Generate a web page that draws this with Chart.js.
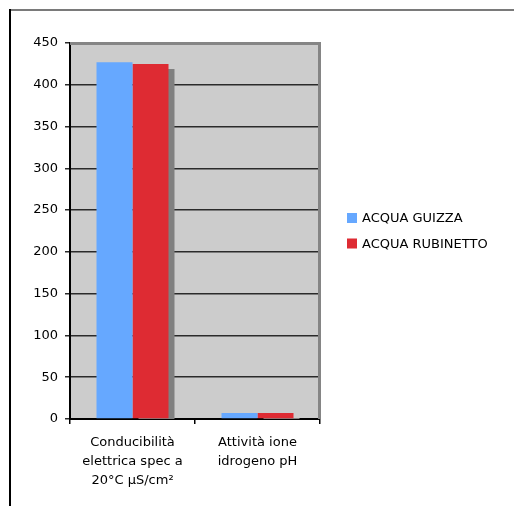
<!DOCTYPE html>
<html>
<head>
<meta charset="utf-8">
<script src="https://cdn.jsdelivr.net/npm/chart.js@4.4.0/dist/chart.umd.min.js"></script>
<style>
  html, body { margin: 0; padding: 0; background: #ffffff; }
  #wrap { width: 514px; height: 506px; position: relative; }
</style>
</head>
<body>
<div id="wrap"><canvas id="c" width="514" height="506"></canvas></div>
<script>
// Categories (multi-line labels) and the two water samples
const categories = [
  ['Conducibilità', 'elettrica spec a', '20°C µS/cm²'],
  ['Attività ione', 'idrogeno pH']
];
const seriesNames = ['ACQUA GUIZZA', 'ACQUA RUBINETTO'];
const guizza = [427, 7.2];
const rubinetto = [425, 7.2];
const yTicks = [0, 50, 100, 150, 200, 250, 300, 350, 400, 450];

const FONT = 'DejaVu Sans';
const BLUE = '#66a8ff';
const RED = '#de2b33';

// Grey plot background, outer frame and plot border
const framePlugin = {
  id: 'frame',
  beforeDraw(chart) {
    const { ctx, chartArea: a } = chart;
    ctx.save();
    ctx.fillStyle = '#ffffff';
    ctx.fillRect(0, 0, chart.width, chart.height);
    // outer frame: top and left edges
    ctx.strokeStyle = '#7a7a7a';
    ctx.lineWidth = 2;
    ctx.beginPath();
    ctx.moveTo(9, 10);
    ctx.lineTo(chart.width, 10);
    ctx.stroke();
    ctx.strokeStyle = '#000000';
    ctx.beginPath();
    ctx.moveTo(10, 9);
    ctx.lineTo(10, chart.height);
    ctx.stroke();
    // plot background
    ctx.fillStyle = '#cccccc';
    ctx.fillRect(a.left, a.top, a.right - a.left, a.bottom - a.top);
    ctx.restore();
  },
  beforeDatasetsDraw(chart) {
    const { ctx, chartArea: a } = chart;
    ctx.save();
    ctx.strokeStyle = '#858585';
    ctx.lineWidth = 3;
    ctx.beginPath();
    ctx.moveTo(a.left, a.top + 0.5);
    ctx.lineTo(a.right - 0.5, a.top + 0.5);
    ctx.lineTo(a.right - 0.5, a.bottom);
    ctx.stroke();
    ctx.restore();
  },
  afterDraw(chart) {
    // legend at the right of the plot
    const { ctx, chartArea: a } = chart;
    const x = a.right + 27;
    const y0 = 218;
    ctx.save();
    ctx.font = '13px ' + FONT;
    ctx.textBaseline = 'middle';
    chart.data.datasets.forEach((ds, i) => {
      const y = y0 + i * 25.5;
      ctx.fillStyle = ds.backgroundColor;
      ctx.fillRect(x, y - 5, 10, 10);
      ctx.fillStyle = '#000000';
      ctx.fillText(ds.label, x + 15, y + 1);
    });
    ctx.restore();
  }
};

// Hard drop shadow behind the rightmost bar of each group
const shadowPlugin = {
  id: 'barShadow',
  beforeDatasetDraw(chart, args) {
    const ctx = chart.ctx;
    ctx.save();
    if (args.index === chart.data.datasets.length - 1) {
      ctx.shadowColor = '#808080';
      ctx.shadowOffsetX = 6;
      ctx.shadowOffsetY = 5;
      ctx.shadowBlur = 0;
    }
  },
  afterDatasetDraw(chart) {
    chart.ctx.restore();
  }
};

new Chart(document.getElementById('c'), {
  type: 'bar',
  data: {
    labels: categories,
    datasets: [
      { label: seriesNames[0], data: guizza, backgroundColor: BLUE, borderWidth: 0 },
      { label: seriesNames[1], data: rubinetto, backgroundColor: RED, borderWidth: 0 }
    ]
  },
  plugins: [framePlugin, shadowPlugin],
  options: {
    responsive: false,
    animation: false,
    devicePixelRatio: 1,
    layout: { padding: { left: 10, top: 43, right: 194, bottom: 0 } },
    plugins: {
      legend: { display: false },
      tooltip: { enabled: false }
    },
    datasets: {
      bar: { categoryPercentage: 0.576, barPercentage: 1.0 }
    },
    scales: {
      x: {
        z: 1,
        offset: true,
        grid: {
          offset: true,
          drawOnChartArea: false,
          drawTicks: true,
          tickLength: 5,
          color: '#000000',
          lineWidth: 1.5
        },
        border: { display: true, color: '#000000', width: 2 },
        ticks: {
          color: '#000000',
          font: { family: FONT, size: 13, lineHeight: 1.45 },
          padding: 9,
          maxRotation: 0,
          autoSkip: false
        },
        afterFit(scale) { scale.height = 87; }
      },
      y: {
        min: 0,
        max: 450,
        afterBuildTicks(scale) { scale.ticks = yTicks.map(v => ({ value: v })); },
        grid: {
          color: '#2a2a2a',
          lineWidth: 1.5,
          drawTicks: true,
          tickLength: 5
        },
        border: { display: true, color: '#000000', width: 2 },
        ticks: {
          color: '#000000',
          font: { family: FONT, size: 13 },
          padding: 7
        },
        afterFit(scale) { scale.width = 60; }
      }
    }
  }
});
</script>
</body>
</html>
